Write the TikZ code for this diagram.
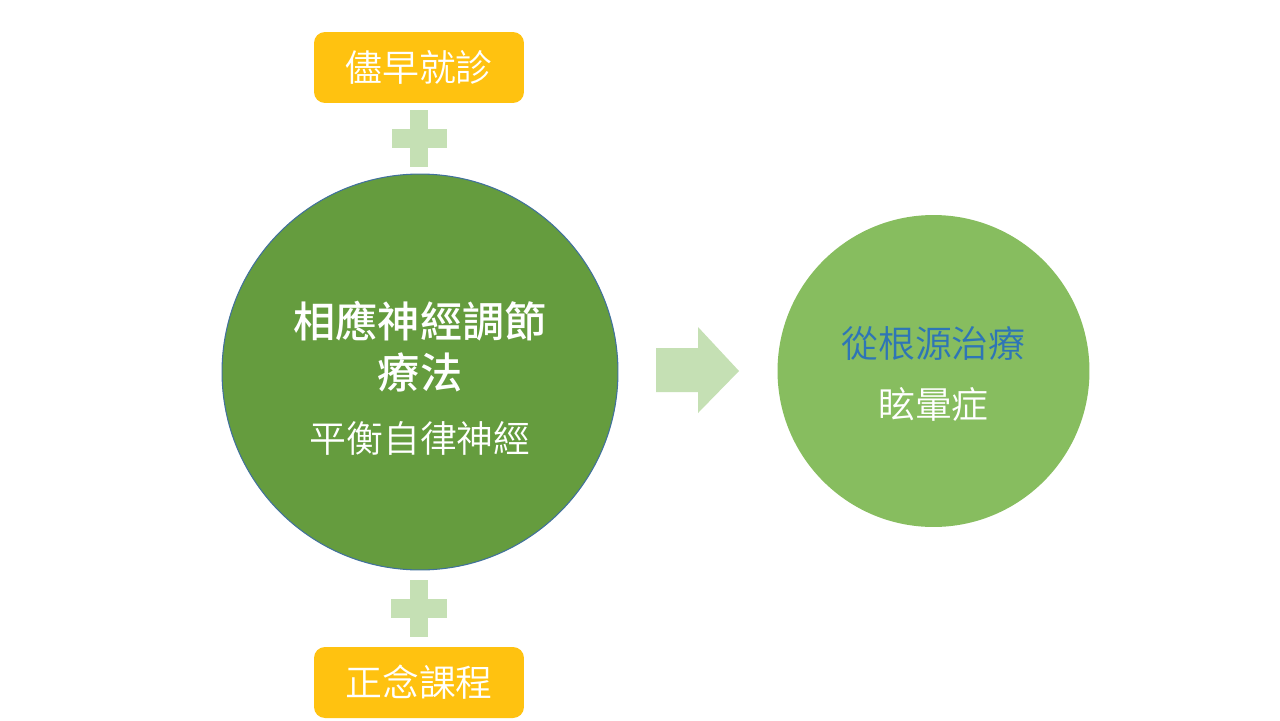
\documentclass[tikz,border=0pt]{standalone}
\usepackage{fontspec}
\newfontfamily\cjk{Noto Sans CJK TC DemiLight}
\newfontfamily\cjkb{Noto Sans CJK TC Medium}
\definecolor{boxyellow}{HTML}{FFC210}
\definecolor{darkgreen}{HTML}{659C3E}
\definecolor{lightgreen}{HTML}{87BD5F}
\definecolor{palegreen}{HTML}{C5E0B4}
\definecolor{rimblue}{HTML}{41719C}
\definecolor{textblue}{HTML}{2E75B6}
\begin{document}
\begin{tikzpicture}[x=0.02cm,y=-0.02cm,
  ybox/.style={fill=boxyellow, rounded corners=0.22cm, minimum width=4.2cm, minimum height=1.42cm, inner sep=0pt, text=white, font=\cjk\fontsize{21pt}{25pt}\selectfont},
  plusfill/.style={fill=palegreen},
  bigcirc/.style={circle, inner sep=0pt, align=center}
]
\useasboundingbox (0,0) rectangle (1280,720);
\fill[white] (0,0) rectangle (1280,720);
% top and bottom boxes
\node[ybox] (top) at (419,67.5) {儘早就診};
\node[ybox] (bot) at (419,682.5) {正念課程};
% plus signs
\fill[plusfill] (392,129) rectangle (447,148);
\fill[plusfill] (410,110) rectangle (428,167);
\fill[plusfill] (391,599) rectangle (447,618);
\fill[plusfill] (410,580) rectangle (428,637);
% left circle
\node[bigcirc, fill=darkgreen, draw=rimblue, line width=0.6pt, minimum size=7.92cm] (left) at (420,372) {};
\node[text=white, font=\cjkb\fontsize{24pt}{29pt}\selectfont, align=center] (lt) at (420,347) {相應神經調節\\療法};
\node[text=white, font=\cjk\fontsize{21pt}{25pt}\selectfont] (ls) at (420,438) {平衡自律神經};
% arrow
\fill[palegreen] (656,348) -- (698,348) -- (698,327) -- (739,371) -- (698,413) -- (698,392) -- (656,392) -- cycle;
% right circle
\node[bigcirc, fill=lightgreen, minimum size=6.24cm] (right) at (933.5,371) {};
\node[text=textblue, font=\cjk\fontsize{21pt}{25pt}\selectfont] (r1) at (933.5,344) {從根源治療};
\node[text=white, font=\cjk\fontsize{21pt}{25pt}\selectfont] (r2) at (933.5,404) {眩暈症};
\end{tikzpicture}
\end{document}
